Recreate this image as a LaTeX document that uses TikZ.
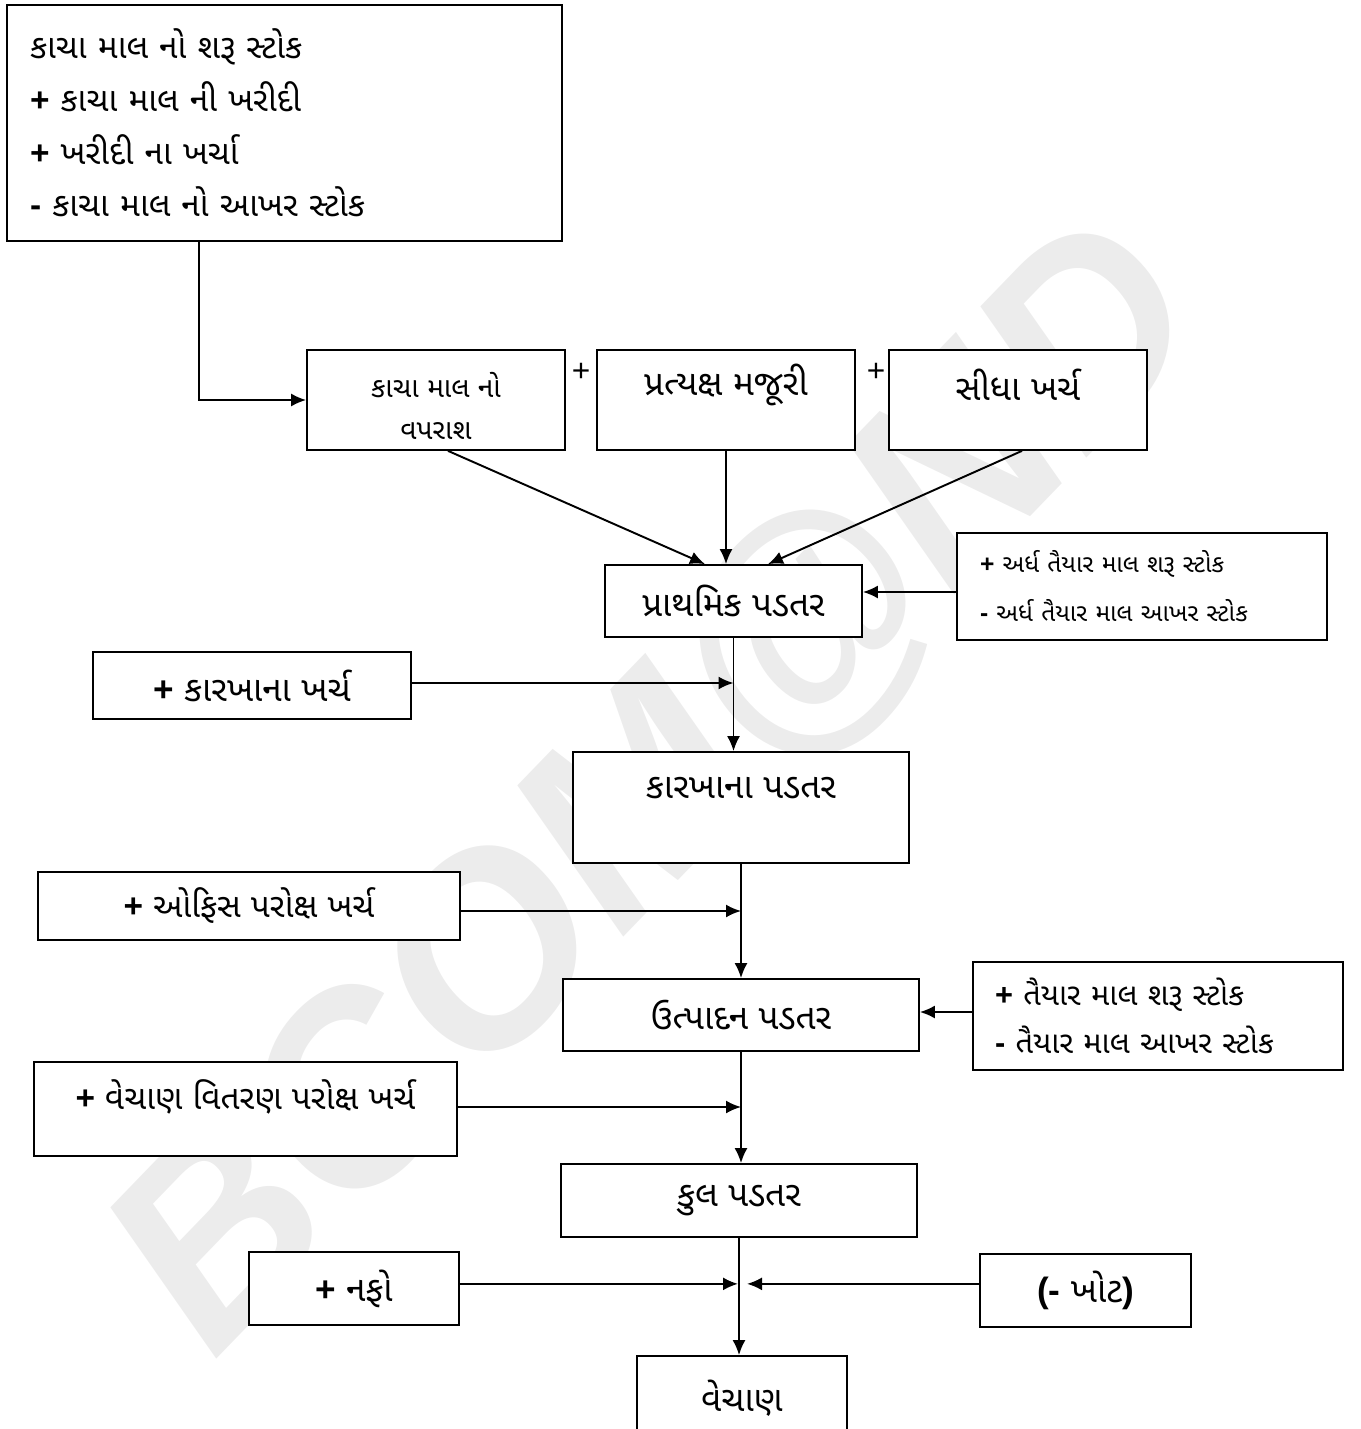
\documentclass[tikz,border=0pt]{standalone}
\usepackage{fontspec}
\setmainfont{Noto Sans Gujarati UI}[Script=Gujarati]
\newfontfamily\latinf{Liberation Sans}
\usetikzlibrary{arrows.meta,positioning}
\newcommand\plusb{{\latinf\bfseries +}}
\newcommand\minusb{{\latinf\bfseries -}}
\newcommand\fs[2]{\fontsize{#1}{#2}\selectfont}
\begin{document}
\begin{tikzpicture}[x=0.02cm, y=-0.02cm,
    box/.style={draw, fill=white, line width=1pt, inner sep=0pt},
    txt/.style={inner sep=0pt, font=\fs{20}{24}},
    flow/.style={line width=1.1pt, -{Latex[length=0.3cm,width=0.26cm]}}]
  \useasboundingbox (0,0) rectangle (1361,1429);
  % watermark
  \node[rotate=46, text=gray!15, font=\fs{150}{150}\latinf\bfseries\itshape] (mark) at (660,790) {BCOM@ND};
  % boxes
  \node[box, minimum width=11.1cm, minimum height=4.72cm, text width=10.18cm, align=left, font=\fs{19}{30}] (raw) at (284.5,123)
    {કાચા માલ નો શરૂ સ્ટોક\\ \plusb{} કાચા માલ ની ખરીદી\\ \plusb{} ખરીદી ના ખર્ચા\\ \minusb{} કાચા માલ નો આખર સ્ટોક};
  \node[box, minimum width=5.16cm, minimum height=2cm] (use) at (436,400) {};
  \node[box, minimum width=5.16cm, minimum height=2cm] (labour) at (726,400) {};
  \node[box, minimum width=5.16cm, minimum height=2cm] (direct) at (1018,400) {};
  \node[box, minimum width=5.14cm, minimum height=1.44cm, font=\fs{20}{24}] (prime) at (733.5,601) {પ્રાથમિક પડતર};
  \node[box, minimum width=7.4cm, minimum height=2.14cm, text width=6.48cm, align=left, font=\fs{14}{28}] (wip) at (1142,586.5)
    {\plusb{} અર્ધ તૈયાર માલ શરૂ સ્ટોક\\ \minusb{} અર્ધ તૈયાર માલ આખર સ્ટોક};
  \node[box, minimum width=6.36cm, minimum height=1.34cm, font=\fs{20}{24}] (fexp) at (252,685.5) {\plusb{} કારખાના ખર્ચ};
  \node[box, minimum width=6.72cm, minimum height=2.22cm] (fcost) at (741,807.5) {};
  \node[box, minimum width=8.44cm, minimum height=1.36cm, font=\fs{19}{24}] (oexp) at (249,906) {\plusb{} ઓફિસ પરોક્ષ ખર્ચ};
  \node[box, minimum width=7.12cm, minimum height=1.44cm, font=\fs{20}{24}] (prod) at (741,1015) {ઉત્પાદન પડતર};
  \node[box, minimum width=7.4cm, minimum height=2.16cm, text width=6.52cm, align=left, font=\fs{17.5}{27}] (fin) at (1158,1016)
    {\plusb{} તૈયાર માલ શરૂ સ્ટોક\\ \minusb{} તૈયાર માલ આખર સ્ટોક};
  \node[box, minimum width=8.46cm, minimum height=1.88cm] (sexp) at (245.5,1109) {};
  \node[box, minimum width=7.12cm, minimum height=1.46cm, font=\fs{20}{24}] (total) at (739,1200.5) {કુલ પડતર};
  \node[box, minimum width=4.2cm, minimum height=1.46cm, font=\fs{20}{24}] (profit) at (354,1288.5) {\plusb{} નફો};
  \node[box, minimum width=4.22cm, minimum height=1.46cm, font=\fs{20}{24}] (loss) at (1085.5,1290.5) {{\latinf\bfseries(-} ખોટ{\latinf\bfseries)}};
  \node[box, minimum width=4.2cm, minimum height=1.68cm, font=\fs{20}{24}] (sales) at (742,1398) {વેચાણ};
  % texts set high in their boxes
  \node[txt, align=center, font=\fs{16}{24}] (usetxt) at (436,406) {કાચા માલ નો\\ વપરાશ};
  \node[txt] (labourtxt) at (726,385) {પ્રત્યક્ષ મજૂરી};
  \node[txt] (directtxt) at (1018,385) {સીધા ખર્ચ};
  \node[txt] (fcosttxt) at (741,788) {કારખાના પડતર};
  \node[txt, font=\fs{19}{24}] (sexptxt) at (245.5,1097) {\plusb{} વેચાણ વિતરણ પરોક્ષ ખર્ચ};
  \node[txt, font=\fs{18}{24}\latinf] (plusa) at (581,372) {+};
  \node[txt, font=\fs{18}{24}\latinf] (plusc) at (876,372) {+};
  % connectors
  \coordinate (meet) at ([yshift=-0.92cm]total.south);
  \begin{scope}[flow]
    \draw ([xshift=3.86cm]raw.south west) |- (use.west);
    \draw ([xshift=0.24cm]use.south) -- ([xshift=-0.57cm]prime.north);
    \draw (labour.south) -- (labour.south |- prime.north);
    \draw ([xshift=0.08cm]direct.south) -- ([xshift=0.69cm]prime.north);
    \draw ([yshift=-0.11cm]wip.west) -- ([yshift=-0.11cm]wip.west -| prime.east);
    \draw (prime.south) -- (prime.south |- fcost.north);
    \draw ([yshift=0.05cm]fexp.east) -- ([yshift=0.05cm]fexp.east -| prime.south);
    \draw (fcost.south) -- (fcost.south |- prod.north);
    \draw ([yshift=-0.1cm]oexp.east) -- ([yshift=-0.1cm]oexp.east -| fcost.south);
    \draw ([yshift=0.08cm]fin.west) -- ([yshift=0.08cm]fin.west -| prod.east);
    \draw (prod.south) -- (prod.south |- total.north);
    \draw ([yshift=0.04cm]sexp.east) -- ([yshift=0.04cm]sexp.east -| prod.south);
    \draw (total.south) -- (total.south |- sales.north);
    \draw (profit.east |- meet) -- ([xshift=-0.02cm]meet);
    \draw (loss.west |- meet) -- ([xshift=0.16cm]meet);
  \end{scope}
\end{tikzpicture}
\end{document}
